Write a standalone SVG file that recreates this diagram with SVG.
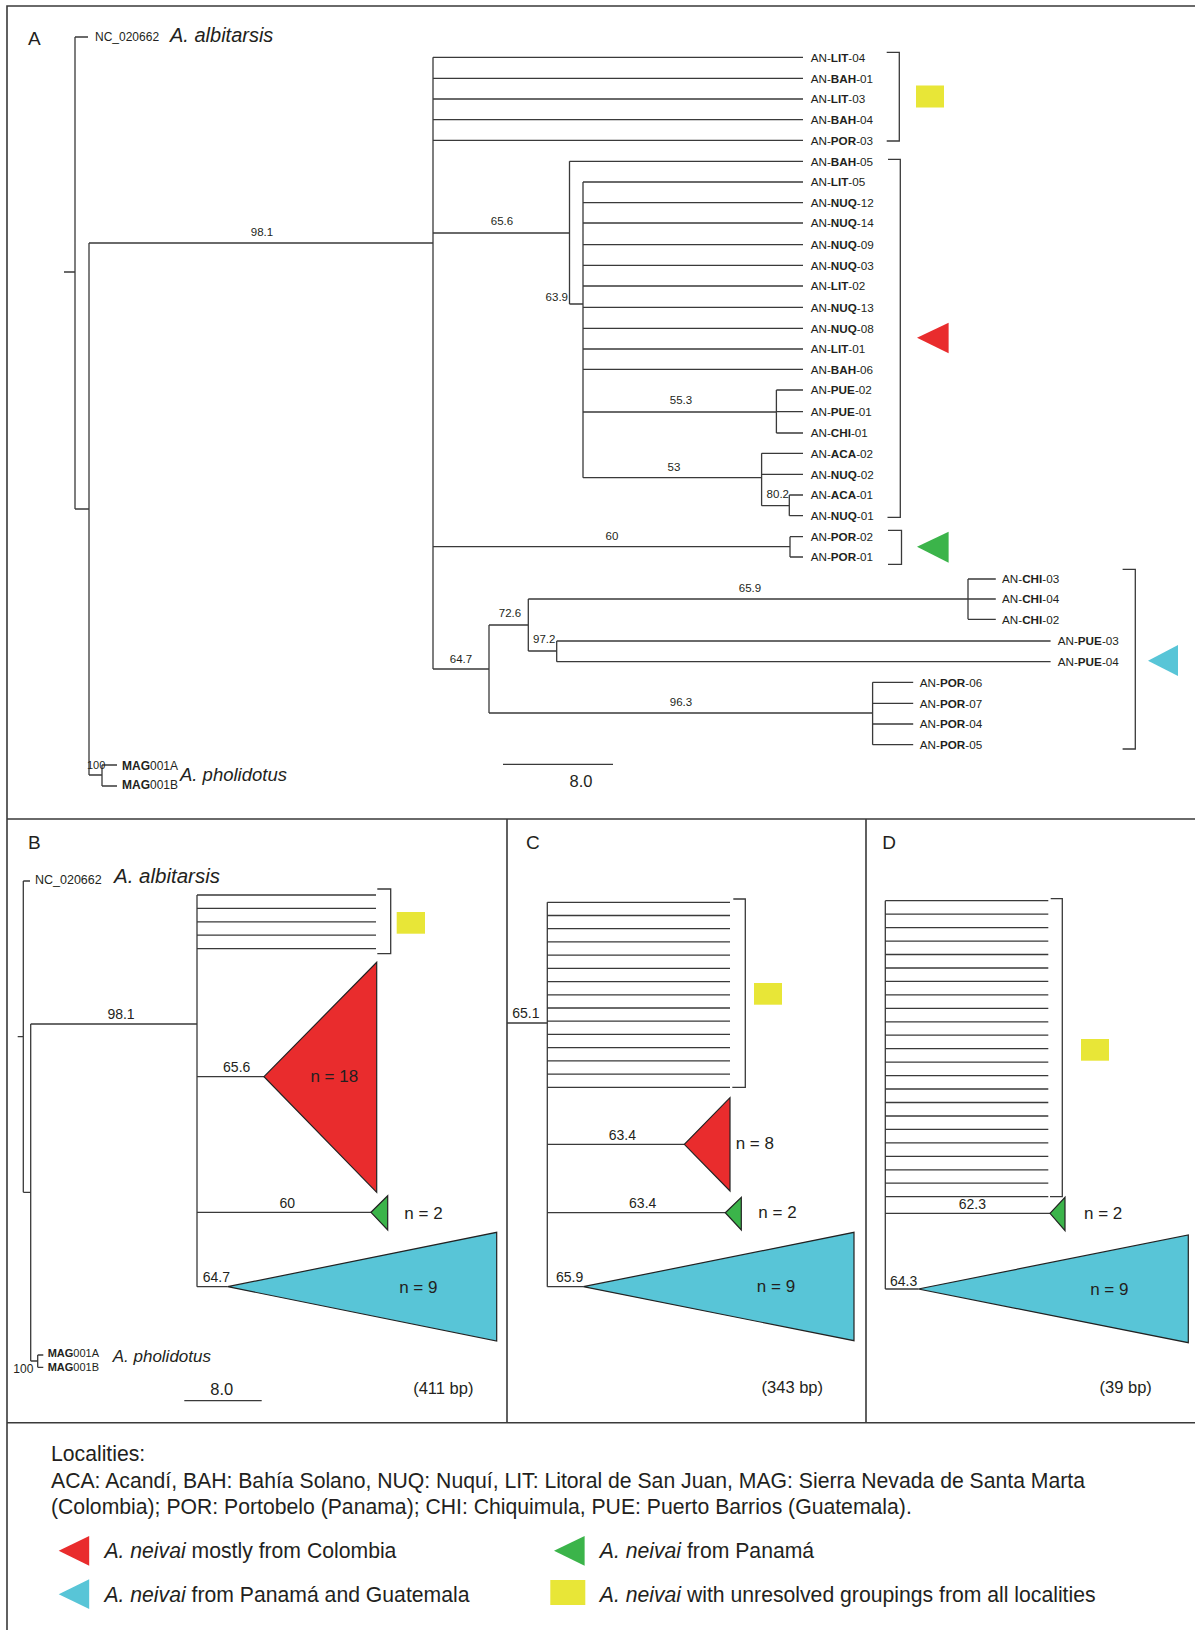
<svg xmlns="http://www.w3.org/2000/svg" width="1195" height="1630" viewBox="0 0 1195 1630">
<style>
text{font-family:"Liberation Sans",Arial,sans-serif;fill:#231f20}
.ln{fill:none;stroke:#3a3a3a;stroke-width:1.3}
.fr{fill:none;stroke:#3a3a3a;stroke-width:1.6}
.tip{font-size:11.7px}
.b{font-weight:bold}
.i{font-style:italic}
.bs{font-size:11.5px}
.bs2{font-size:14px}
.n{font-size:17px}
.pl{font-size:19px}
.lg{font-size:21.2px}
.red{fill:#E92C2D}
.grn{fill:#3BB44A}
.cyn{fill:#58C5D7}
.yel{fill:#E8E637}
.ol{stroke:#222;stroke-width:1.2}
.m{text-anchor:middle}
.e{text-anchor:end}
</style>
<rect width="1195" height="1630" fill="#fff"/>
<g id="frame">
<path class="fr" d="M1195 6H7V1630M7 819H1195M7 1422.7H1195M507 819V1422.7M866 819V1422.7"/>
</g>
<g id="connectors">
<!-- Panel A -->
<path class="ln" d="M64 272H75M75 37V509M75 37H88M75 509H89M89 243V775M89 243H433M89 775H102M102 765V786M102 765H117M102 786H117"/>
<path class="ln" d="M433 57.3V669M433 57.3H803M433 78.3H803M433 99H803M433 119.7H803M433 140.3H803"/>
<path class="ln" d="M433 233H569.5M569.5 161.3V304M569.5 161.3H803M569.5 304H583M583 182V477.7M583 182H803M583 202.7H803M583 223H803M583 244.7H803M583 265.3H803M583 286H803M583 307.3H803M583 328.3H803M583 349H803M583 369.3H803"/>
<path class="ln" d="M583 412H776.4M776.4 390V433M776.4 390H803M776.4 433H803M776.4 411.7H803"/>
<path class="ln" d="M583 477.7H761.6M761.6 453.3V505.7M761.6 453.3H803M761.6 474.3H803M761.6 505.7H789.3M789.3 495V515.7M789.3 495H803M789.3 515.7H803"/>
<path class="ln" d="M433 546.7H790M790 536.7V557M790 536.7H803M790 557H803"/>
<path class="ln" d="M433 669H489M489 625V713M489 625H528.3M528.3 599V651M528.3 599H968M968 579V619.3M968 579H995.8M968 599H995.8M968 619.3H995.8M528.3 651H556.7M556.7 641V661.7M556.7 641H1050.6M556.7 661.7H1050.6M489 713H872.6M872.6 682.3V744.7M872.6 682.3H913.2M872.6 703.3H913.2M872.6 724H913.2M872.6 744.7H913.2"/>
<path class="ln" d="M503 764.3H613"/>
<path class="ln" d="M886.7 52.3H899.3V141H886.7M888 159.3H900.3V517.3H887.5M888 530.3H901.5V564.3H888M1122.6 569.3H1135.3V749H1122.6"/>
<!-- Panel B -->
<path class="ln" d="M17.7 1036.7H23.3M23.3 881V1192.3M23.3 881H30M23.3 1192.3H30.7M30.7 1024V1361M30.7 1024H197M30.7 1361H37.7M37.7 1355V1367.3M37.7 1355H43.3M37.7 1367.3H43.3"/>
<path class="ln" d="M197 895V1286.7M197 895H376M197 908.4H376M197 921.8H376M197 935.2H376M197 948.6H376M197 1076.7H264M197 1212.3H371M197 1286.7H227.7"/>
<path class="ln" d="M377.3 889H390.7V953.7H377.3M184.3 1400.7H261.7"/>
<!-- Panel C -->
<path class="ln" d="M507 1023H547.3M547.3 902.3V1286.7M547.3 902.3H730M547.3 915.5H730M547.3 928.7H730M547.3 941.9H730M547.3 955.1H730M547.3 968.4H730M547.3 981.6H730M547.3 994.8H730M547.3 1008H730M547.3 1021.2H730M547.3 1034.4H730M547.3 1047.6H730M547.3 1060.8H730M547.3 1074.1H730M547.3 1087.3H730M547.3 1144.3H684.3M547.3 1212.7H725.3M547.3 1286.7H583.3"/>
<path class="ln" d="M733.3 899H745.3V1087.3H732.3"/>
<!-- Panel D -->
<path class="ln" d="M885.3 900.7V1289M885.3 900.7H1048.3M885.3 914.2H1048.3M885.3 927.6H1048.3M885.3 941.1H1048.3M885.3 954.5H1048.3M885.3 968H1048.3M885.3 981.4H1048.3M885.3 994.9H1048.3M885.3 1008.3H1048.3M885.3 1021.8H1048.3M885.3 1035.2H1048.3M885.3 1048.7H1048.3M885.3 1062.1H1048.3M885.3 1075.6H1048.3M885.3 1089H1048.3M885.3 1102.5H1048.3M885.3 1116H1048.3M885.3 1129.4H1048.3M885.3 1142.9H1048.3M885.3 1156.3H1048.3M885.3 1169.8H1048.3M885.3 1183.2H1048.3M885.3 1196.7H1048.3M885.3 1213.3H1050M885.3 1289H918.3"/>
<path class="ln" d="M1050.7 898.7H1062.3V1196.7H1050"/>
</g>
<g id="panel-A">
<text x="28" y="45" class="pl">A</text>
<g id="A-albitarsis"><text x="95" y="41" style="font-size:12px">NC_020662</text><text x="170" y="42" class="i" style="font-size:20px">A. albitarsis</text></g>
<g id="A-pholidotus"><text x="87" y="769" style="font-size:11px">100</text><text x="122" y="769.5" style="font-size:12px"><tspan class="b">MAG</tspan>001A</text><text x="122" y="789" style="font-size:12px"><tspan class="b">MAG</tspan>001B</text><text x="180" y="781" class="i" style="font-size:18.5px">A. pholidotus</text></g>
<g id="A-support" class="bs">
<text x="262" y="236" class="m bs">98.1</text>
<text x="502" y="225" class="m bs">65.6</text>
<text x="568" y="301" class="e bs">63.9</text>
<text x="681" y="404" class="m bs">55.3</text>
<text x="674" y="470.5" class="m bs">53</text>
<text x="789" y="497.5" class="e bs">80.2</text>
<text x="612" y="540" class="m bs">60</text>
<text x="461" y="662.5" class="m bs">64.7</text>
<text x="510" y="617" class="m bs">72.6</text>
<text x="750" y="592" class="m bs">65.9</text>
<text x="533" y="643" class="bs">97.2</text>
<text x="681" y="705.5" class="m bs">96.3</text>
</g>
<g id="A-scale"><text x="581" y="786.5" class="m" style="font-size:16.5px">8.0</text></g>
<g id="A-tips" class="tip">
<text x="810.7" y="61.5" class="tip">AN-<tspan class="b">LIT</tspan>-04</text>
<text x="810.7" y="82.5" class="tip">AN-<tspan class="b">BAH</tspan>-01</text>
<text x="810.7" y="103.2" class="tip">AN-<tspan class="b">LIT</tspan>-03</text>
<text x="810.7" y="123.9" class="tip">AN-<tspan class="b">BAH</tspan>-04</text>
<text x="810.7" y="144.5" class="tip">AN-<tspan class="b">POR</tspan>-03</text>
<text x="810.7" y="165.5" class="tip">AN-<tspan class="b">BAH</tspan>-05</text>
<text x="810.7" y="186.2" class="tip">AN-<tspan class="b">LIT</tspan>-05</text>
<text x="810.7" y="206.9" class="tip">AN-<tspan class="b">NUQ</tspan>-12</text>
<text x="810.7" y="227.2" class="tip">AN-<tspan class="b">NUQ</tspan>-14</text>
<text x="810.7" y="248.9" class="tip">AN-<tspan class="b">NUQ</tspan>-09</text>
<text x="810.7" y="269.5" class="tip">AN-<tspan class="b">NUQ</tspan>-03</text>
<text x="810.7" y="290.2" class="tip">AN-<tspan class="b">LIT</tspan>-02</text>
<text x="810.7" y="311.5" class="tip">AN-<tspan class="b">NUQ</tspan>-13</text>
<text x="810.7" y="332.5" class="tip">AN-<tspan class="b">NUQ</tspan>-08</text>
<text x="810.7" y="353.2" class="tip">AN-<tspan class="b">LIT</tspan>-01</text>
<text x="810.7" y="373.5" class="tip">AN-<tspan class="b">BAH</tspan>-06</text>
<text x="810.7" y="394.2" class="tip">AN-<tspan class="b">PUE</tspan>-02</text>
<text x="810.7" y="415.9" class="tip">AN-<tspan class="b">PUE</tspan>-01</text>
<text x="810.7" y="437.2" class="tip">AN-<tspan class="b">CHI</tspan>-01</text>
<text x="810.7" y="457.5" class="tip">AN-<tspan class="b">ACA</tspan>-02</text>
<text x="810.7" y="478.5" class="tip">AN-<tspan class="b">NUQ</tspan>-02</text>
<text x="810.7" y="499.2" class="tip">AN-<tspan class="b">ACA</tspan>-01</text>
<text x="810.7" y="519.9" class="tip">AN-<tspan class="b">NUQ</tspan>-01</text>
<text x="810.7" y="540.9" class="tip">AN-<tspan class="b">POR</tspan>-02</text>
<text x="810.7" y="561.2" class="tip">AN-<tspan class="b">POR</tspan>-01</text>
<text x="1002" y="583.2" class="tip">AN-<tspan class="b">CHI</tspan>-03</text>
<text x="1002" y="602.9" class="tip">AN-<tspan class="b">CHI</tspan>-04</text>
<text x="1002" y="623.5" class="tip">AN-<tspan class="b">CHI</tspan>-02</text>
<text x="1057.7" y="645.2" class="tip">AN-<tspan class="b">PUE</tspan>-03</text>
<text x="1057.7" y="665.9" class="tip">AN-<tspan class="b">PUE</tspan>-04</text>
<text x="919.8" y="686.5" class="tip">AN-<tspan class="b">POR</tspan>-06</text>
<text x="919.8" y="707.5" class="tip">AN-<tspan class="b">POR</tspan>-07</text>
<text x="919.8" y="728.2" class="tip">AN-<tspan class="b">POR</tspan>-04</text>
<text x="919.8" y="748.9" class="tip">AN-<tspan class="b">POR</tspan>-05</text>
</g>
<g id="A-markers">
<rect class="yel" x="916" y="85.5" width="28" height="22"/>
<polygon class="red" points="917,337.7 948.6,322.7 948.6,353.3"/>
<polygon class="grn" points="917,546.7 948.6,531.7 948.6,562.7"/>
<polygon class="cyn" points="1148,660.7 1178,645 1178,676"/>
</g>
</g>
<g id="panel-B">
<text x="28" y="849" class="pl">B</text>
<g id="B-albitarsis"><text x="35" y="884" style="font-size:12.5px">NC_020662</text><text x="114" y="883" class="i" style="font-size:20.5px">A. albitarsis</text></g>
<g id="B-pholidotus"><text x="47.7" y="1356.5" style="font-size:11px"><tspan class="b">MAG</tspan>001A</text><text x="47.7" y="1371" style="font-size:11px"><tspan class="b">MAG</tspan>001B</text><text x="13.3" y="1373.3" style="font-size:12px">100</text><text x="112.7" y="1362" class="i" style="font-size:17px">A. pholidotus</text></g>
<text x="121" y="1019" class="m bs2">98.1</text>
<text x="236.7" y="1071.7" class="m bs2">65.6</text>
<text x="287.3" y="1208.3" class="m bs2">60</text>
<text x="202.7" y="1281.7" class="bs2">64.7</text>
<g id="B-yellow"><rect class="yel" x="396.7" y="912" width="28.3" height="21.7"/></g>
<g id="B-red"><polygon class="red ol" points="264,1076.7 376.7,962.3 376.7,1192.3"/><text x="334.3" y="1081.7" class="m n">n = 18</text></g>
<g id="B-green"><polygon class="grn ol" points="371,1212.3 387.7,1195.7 387.7,1230"/><text x="404.3" y="1218.5" class="n">n = 2</text></g>
<g id="B-cyan"><polygon class="cyn ol" points="227.7,1286.7 496.7,1232.3 496.7,1341"/><text x="418.3" y="1292.7" class="m n">n = 9</text></g>
<text x="221.7" y="1395" class="m" style="font-size:16.5px">8.0</text>
<text x="443.3" y="1394" class="m" style="font-size:16.5px">(411 bp)</text>
</g>
<g id="panel-C">
<text x="526" y="849" class="pl">C</text>
<text x="512.3" y="1018.3" class="bs2">65.1</text>
<text x="622.3" y="1140" class="m bs2">63.4</text>
<text x="642.7" y="1208.3" class="m bs2">63.4</text>
<text x="556" y="1281.7" class="bs2">65.9</text>
<g id="C-yellow"><rect class="yel" x="754" y="983" width="28" height="21.7"/></g>
<g id="C-red"><polygon class="red ol" points="684.3,1144.3 730,1097.7 730,1191"/><text x="735.7" y="1149" class="n">n = 8</text></g>
<g id="C-green"><polygon class="grn ol" points="725.3,1212.7 741.3,1197.3 741.3,1230"/><text x="758.3" y="1218" class="n">n = 2</text></g>
<g id="C-cyan"><polygon class="cyn ol" points="583.3,1286.7 854,1232.3 854,1340.7"/><text x="776" y="1292" class="m n">n = 9</text></g>
<text x="792.3" y="1392.7" class="m" style="font-size:16.5px">(343 bp)</text>
</g>
<g id="panel-D">
<text x="882.3" y="849" class="pl">D</text>
<text x="972.3" y="1209.3" class="m bs2">62.3</text>
<text x="890" y="1285.7" class="bs2">64.3</text>
<g id="D-yellow"><rect class="yel" x="1081" y="1039" width="28" height="21.7"/></g>
<g id="D-green"><polygon class="grn ol" points="1050,1213.3 1065,1197.3 1065,1230.7"/><text x="1084" y="1218.5" class="n">n = 2</text></g>
<g id="D-cyan"><polygon class="cyn ol" points="918.3,1289 1188.3,1235 1188.3,1342.7"/><text x="1109.3" y="1295" class="m n">n = 9</text></g>
<text x="1125.7" y="1392.7" class="m" style="font-size:16.5px">(39 bp)</text>
</g>
<g id="legend">
<text x="51" y="1461" class="lg">Localities:</text>
<text x="51" y="1487.5" class="lg">ACA: Acandí, BAH: Bahía Solano, NUQ: Nuquí, LIT: Litoral de San Juan, MAG: Sierra Nevada de Santa Marta</text>
<text x="51" y="1514" class="lg">(Colombia); POR: Portobelo (Panama); CHI: Chiquimula, PUE: Puerto Barrios (Guatemala).</text>
<g id="leg-red"><polygon class="red" points="58.7,1550.7 89.2,1536 89.2,1565.7"/><text x="104.4" y="1558.3" class="lg"><tspan class="i">A. neivai</tspan> mostly from Colombia</text></g>
<g id="leg-green"><polygon class="grn" points="554,1550.7 584.6,1536 584.6,1565.7"/><text x="599.8" y="1558.3" class="lg"><tspan class="i">A. neivai</tspan> from Panamá</text></g>
<g id="leg-cyan"><polygon class="cyn" points="58.7,1594.3 89.2,1579.3 89.2,1609"/><text x="104.4" y="1601.7" class="lg"><tspan class="i">A. neivai</tspan> from Panamá and Guatemala</text></g>
<g id="leg-yellow"><rect class="yel" x="550.3" y="1580" width="35" height="25"/><text x="599.8" y="1601.7" class="lg"><tspan class="i">A. neivai</tspan> with unresolved groupings from all localities</text></g>
</g>
</svg>
